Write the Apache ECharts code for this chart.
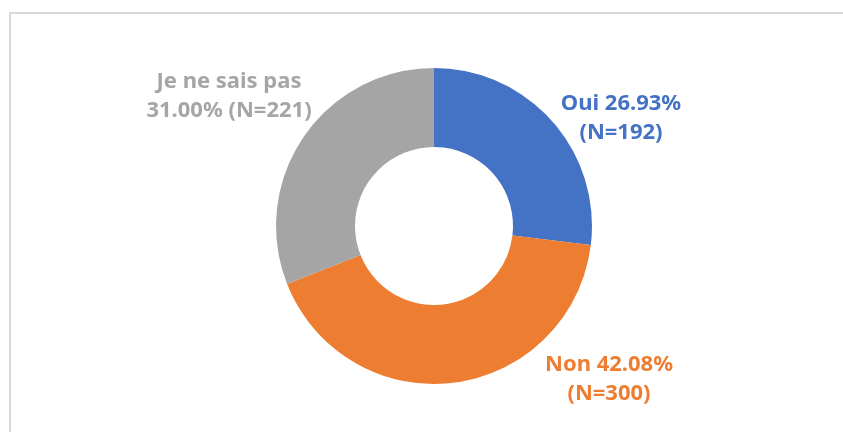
<!DOCTYPE html>
<html>
<head>
<meta charset="utf-8">
<script src="https://cdn.jsdelivr.net/npm/echarts@6/dist/echarts.min.js"></script>
<style>
    html, body { margin: 0; padding: 0; background: #fff; }
    #wrap { position: relative; width: 843px; height: 432px; overflow: hidden; }
    #frame { position: absolute; left: 9px; top: 12px; width: 900px; height: 500px;
             border-left: 2px solid #d9d9d9; border-top: 2px solid #d9d9d9; }
    #chart { position: absolute; left: 0; top: 0; width: 843px; height: 432px; }
</style>
</head>
<body>
<div id="wrap">
    <div id="frame"></div>
    <div id="chart"></div>
</div>
<script>
// 数据
const categories = ['Oui', 'Non', 'Je ne sais pas'];
const counts = [192, 300, 221];
const colors = ['#4472C4', '#ED7D31', '#A5A5A5'];
const total = counts.reduce((a, b) => a + b, 0);

// 标签位置 (文本块中心)
const labelPos = [
    { x: 621, y: 118 },
    { x: 609, y: 379 },
    { x: 229, y: 96 },
];

const chart = echarts.init(document.getElementById('chart'));

const option = {
    animation: false,
    series: [
        {
            type: 'pie',
            center: [434, 226],
            radius: [79, 158],
            startAngle: 90,
            clockwise: true,
            avoidLabelOverlap: false,
            label: {
                show: true,
                position: 'outside',
                fontFamily: 'Noto Sans',
                fontWeight: 'bold',
                fontSize: 22,
                lineHeight: 29,
                align: 'center',
                formatter: (p) => {
                    const pct = (p.value / total * 100).toFixed(2) + '%';
                    if (p.dataIndex === 2) return p.name + '\n' + pct + ' (N=' + p.value + ')';
                    return p.name + ' ' + pct + '\n(N=' + p.value + ')';
                }
            },
            labelLine: { show: false },
            labelLayout: (params) => ({
                x: labelPos[params.dataIndex].x,
                y: labelPos[params.dataIndex].y,
                align: 'center',
                verticalAlign: 'middle',
            }),
            data: categories.map((name, i) => ({
                name: name,
                value: counts[i],
                itemStyle: { color: colors[i] },
                label: { color: colors[i] },
            })),
        }
    ]
};

chart.setOption(option);
</script>
</body>
</html>
